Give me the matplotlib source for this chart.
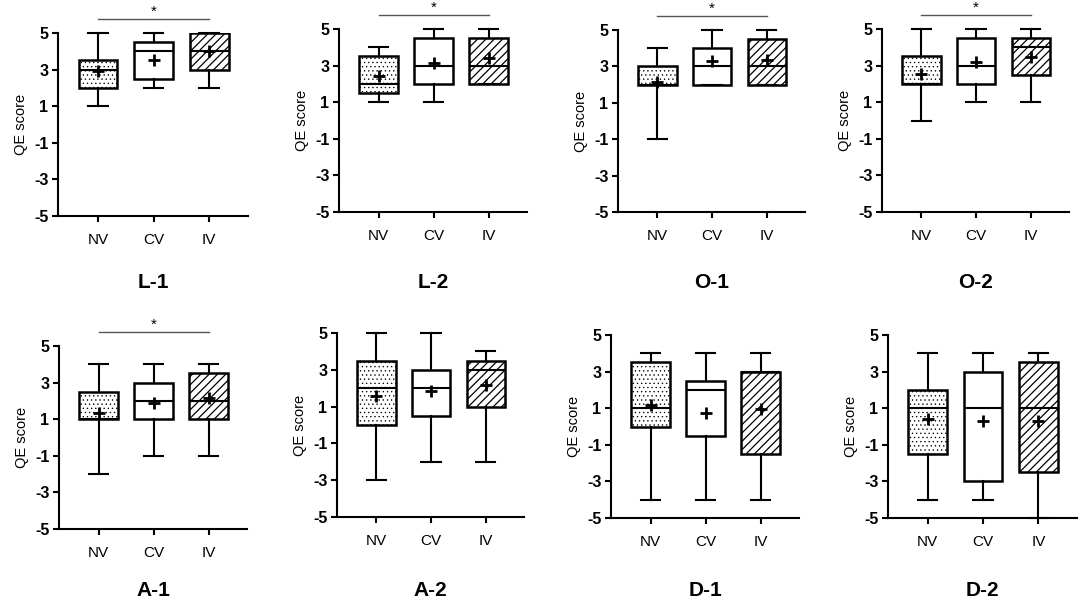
import matplotlib
matplotlib.use('Agg')
import matplotlib.pyplot as plt

plt.rcParams['font.family'] = ['Liberation Sans', 'DejaVu Sans']
plt.rcParams['hatch.linewidth'] = 0.9
plt.rcParams['axes.unicode_minus'] = False

panels = ['L-1', 'L-2', 'O-1', 'O-2', 'A-1', 'A-2', 'D-1', 'D-2']
groups = ['NV', 'CV', 'IV']

# per panel: values for NV, CV, IV
whislo = [[1, 2, 2], [1, 1, 2], [-1, 2, 2], [0, 1, 1],
          [-2, -1, -1], [-3, -2, -2], [-4, -4, -4], [-4, -4, -5]]
q1 = [[2, 2.5, 3], [1.5, 2, 2], [2, 2, 2], [2, 2, 2.5],
      [1, 1, 1], [0, 0.5, 1], [0, -0.5, -1.5], [-1.5, -3, -2.5]]
med = [[3, 4, 4], [2, 3, 3], [2, 3, 3], [2, 3, 4],
       [1, 2, 2], [2, 2, 3], [1, 2, 3], [1, 1, 1]]
q3 = [[3.5, 4.5, 5], [3.5, 4.5, 4.5], [3, 4, 4.5], [3.5, 4.5, 4.5],
      [2.5, 3, 3.5], [3.5, 3, 3.5], [3.5, 2.5, 3], [2, 3, 3.5]]
whishi = [[5, 5, 5], [4, 5, 5], [4, 5, 5], [5, 5, 5],
          [4, 4, 4], [5, 5, 4], [4, 4, 4], [4, 4, 4]]
means = [[2.9, 3.5, 4.0], [2.45, 3.15, 3.4], [2.15, 3.3, 3.35], [2.55, 3.2, 3.45],
         [1.35, 1.9, 2.15], [1.6, 1.85, 2.15], [1.2, 0.75, 0.95], [0.4, 0.3, 0.3]]
significant = [True, True, True, True, True, False, False, False]

# axes boxes in pixels: left, right, top (y=5), bottom (x axis)
boxes_px = [(58, 248, 33, 216), (339, 527, 29, 212), (618, 805, 30, 212), (882, 1069, 29, 212),
            (59, 247, 346, 529), (337, 524, 333, 517), (611, 799, 335, 518), (888, 1077, 335, 518)]
label_y_px = [283, 283, 283, 283, 591, 591, 591, 591]

W, H = 1084, 608
fig = plt.figure(figsize=(W / 100, H / 100), dpi=100)

hatches = ['....', '', '////']
hatch_lw = [0.45, 0.9, 0.9]

for i, name in enumerate(panels):
    l, r, t, b = boxes_px[i]
    ax = fig.add_axes([l / W, 1 - b / H, (r - l) / W, (b - t) / H])
    stats = []
    for k in range(3):
        stats.append({'whislo': whislo[i][k], 'q1': q1[i][k], 'med': med[i][k],
                      'q3': q3[i][k], 'whishi': whishi[i][k], 'mean': means[i][k],
                      'fliers': [], 'label': groups[k]})
    bp = ax.bxp(stats, positions=[0, 1, 2], widths=0.7, capwidths=0.35,
                showmeans=True, patch_artist=True, showfliers=False,
                boxprops=dict(linewidth=1.8, edgecolor='black', facecolor='white'),
                medianprops=dict(color='black', linewidth=1.5),
                whiskerprops=dict(color='black', linewidth=1.5),
                capprops=dict(color='black', linewidth=1.5),
                meanprops=dict(marker='+', markeredgecolor='black', markersize=8,
                               markeredgewidth=2))
    for patch, h, hl in zip(bp['boxes'], hatches, hatch_lw):
        patch.set_hatch(h)
        try:
            patch.set_hatch_linewidth(hl)
        except AttributeError:
            pass
    for art in bp['whiskers'] + bp['caps'] + bp['medians'] + bp['means']:
        art.set_clip_on(False)

    ax.set_xlim(-0.72, 2.7)
    ax.set_ylim(-5, 5)
    ax.set_yticks([-5, -3, -1, 1, 3, 5])
    ax.spines['top'].set_visible(False)
    ax.spines['right'].set_visible(False)
    ax.spines['left'].set_linewidth(1.5)
    ax.spines['bottom'].set_linewidth(1.5)
    ax.tick_params(axis='both', width=1.5, length=4, pad=3)
    ax.tick_params(axis='x', labelsize=11, pad=8)
    for lab in ax.get_yticklabels():
        lab.set_fontweight('bold')
        lab.set_fontsize(11.5)
    ax.set_ylabel('QE score', fontsize=10.5, labelpad=4)

    if significant[i]:
        ax.plot([0, 2], [5.75, 5.75], color='#555555', linewidth=1, clip_on=False)
        ax.text(1, 5.8, '*', ha='center', va='bottom', fontsize=11, clip_on=False)

    fig.text((l + r) / 2 / W, 1 - label_y_px[i] / H, name, ha='center', va='center',
             fontsize=15, fontweight='bold')

fig.savefig('out.png', dpi=100)
